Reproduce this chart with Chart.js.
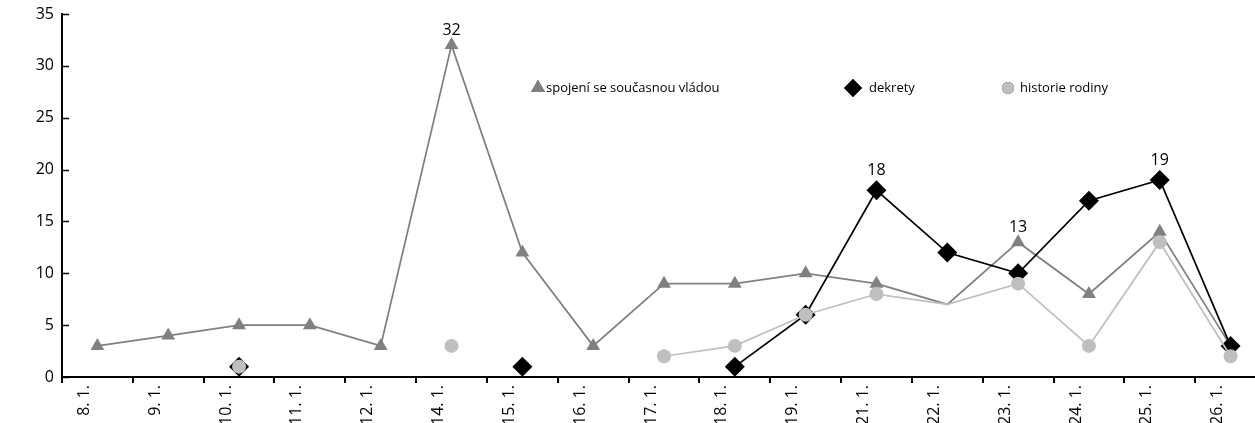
<!DOCTYPE html>
<html>
<head>
<meta charset="utf-8">
<script src="https://cdn.jsdelivr.net/npm/chart.js@4.4.1/dist/chart.umd.min.js"></script>
<style>
  html, body { margin: 0; padding: 0; background: #fff; overflow: hidden; }
  #wrap { position: relative; width: 1276px; height: 423px; }
</style>
</head>
<body>
<div id="wrap"><canvas id="c"></canvas></div>
<script>
// ---- data ----
const categories = ['8. 1.', '9. 1.', '10. 1.', '11. 1.', '12. 1.', '14. 1.', '15. 1.', '16. 1.', '17. 1.',
                    '18. 1.', '19. 1.', '21. 1.', '22. 1.', '23. 1.', '24. 1.', '25. 1.', '26. 1.'];
const seriesNames = ['spojení se současnou vládou', 'dekrety', 'historie rodiny'];
const vlada   = [3, 4, 5, 5, 3, 32, 12, 3, 9, 9, 10, 9, 7, 13, 8, 14, 3];
const dekrety = [null, null, 1, null, null, null, 1, null, null, 1, 6, 18, 12, 10, 17, 19, 3];
const rodina  = [null, null, 1, null, null, 3, null, null, 2, 3, 6, 8, 7, 9, 3, 13, 2];
const yTicks  = [0, 5, 10, 15, 20, 25, 30, 35];
// which points carry a value label: [series index, category index]
const labelledPoints = [[0, 5], [1, 11], [0, 13], [1, 15]];
// category where the grey series have no marker
const noMarkerCategory = '22. 1.';

// ---- styles ----
const FONT = '"Open Sans"';
const colors = ['#808080', '#000000', '#bfbfbf'];
const styles = ['triangle', 'rectRot', 'circle'];
const radii = [8, 10, 7];
const labelLift = [15, 20, 15];

function radiusArray(r, hideMissing) {
  return categories.map(c => (hideMissing && c === noMarkerCategory) ? 0 : r);
}

const datasets = [vlada, dekrety, rodina].map((d, i) => ({
  label: seriesNames[i],
  data: d,
  borderColor: colors[i],
  backgroundColor: colors[i],
  borderWidth: 1.75,
  pointStyle: styles[i],
  pointRadius: radiusArray(radii[i], i !== 1),
  pointBackgroundColor: colors[i],
  pointBorderColor: colors[i],
  pointBorderWidth: 0,
  spanGaps: false,
  tension: 0,
  order: 3 - i
}));

const innerYTicks = {
  id: 'innerYTicks',
  afterDraw(chart) {
    const ctx = chart.ctx, y = chart.scales.y, left = chart.chartArea.left;
    ctx.save();
    ctx.strokeStyle = '#000';
    ctx.lineWidth = 1.5;
    yTicks.forEach(v => {
      const py = Math.round(y.getPixelForValue(v)) + 0.5;
      ctx.beginPath();
      ctx.moveTo(left, py);
      ctx.lineTo(left + 7, py);
      ctx.stroke();
    });
    ctx.restore();
  }
};

const valueLabels = {
  id: 'valueLabels',
  afterDatasetsDraw(chart) {
    const ctx = chart.ctx;
    ctx.save();
    ctx.fillStyle = '#000';
    ctx.font = '16px ' + FONT;
    ctx.textAlign = 'center';
    ctx.textBaseline = 'middle';
    labelledPoints.forEach(([s, i]) => {
      const el = chart.getDatasetMeta(s).data[i];
      const v = chart.data.datasets[s].data[i];
      ctx.fillText(String(v), el.x, el.y - labelLift[s]);
    });
    ctx.restore();
  }
};

const customLegend = {
  id: 'customLegend',
  afterDraw(chart) {
    const ctx = chart.ctx;
    const items = [
      { mx: 538, tx: 546 },
      { mx: 853, tx: 869 },
      { mx: 1008, tx: 1020 }
    ];
    const my = 88;
    const legendRadii = [8, 9, 6];
    ctx.save();
    items.forEach((it, i) => {
      Chart.helpers.drawPoint(ctx, {
        pointStyle: styles[i], radius: legendRadii[i], rotation: 0, borderWidth: 0
      }, it.mx, my);
      ctx.fillStyle = colors[i];
      ctx.fill();
      ctx.fillStyle = '#000';
      ctx.font = '13px ' + FONT;
      ctx.textAlign = 'left';
      ctx.textBaseline = 'middle';
      ctx.fillText(seriesNames[i], it.tx, my);
    });
    ctx.restore();
  }
};

new Chart(document.getElementById('c'), {
  type: 'line',
  data: { labels: categories, datasets },
  options: {
    responsive: true,
    maintainAspectRatio: false,
    animation: false,
    layout: { padding: { top: 14, right: 5, left: 0, bottom: 0 } },
    plugins: { legend: { display: false }, tooltip: { enabled: false } },
    scales: {
      x: {
        type: 'category',
        offset: true,
        grid: { display: true, offset: true, drawOnChartArea: false, drawTicks: true, tickLength: 6, color: '#000', lineWidth: 2 },
        border: { display: true, color: '#000', width: 2 },
        ticks: { autoSkip: false, minRotation: 90, maxRotation: 90, labelOffset: -13, padding: 2, color: '#000', font: { family: 'Open Sans', size: 16 } },
        afterFit(s) { s.height = 46; }
      },
      y: {
        min: 0, max: 35,
        afterBuildTicks(s) { s.ticks = yTicks.map(v => ({ value: v })); },
        grid: { display: false, drawTicks: false },
        border: { display: true, color: '#000', width: 2 },
        ticks: { padding: 8, color: '#000', font: { family: 'Open Sans', size: 16 } },
        afterFit(s) { s.width = 62; s.paddingTop = 0; s.paddingBottom = 0; }
      }
    }
  },
  plugins: [innerYTicks, valueLabels, customLegend]
});
</script>
</body>
</html>
